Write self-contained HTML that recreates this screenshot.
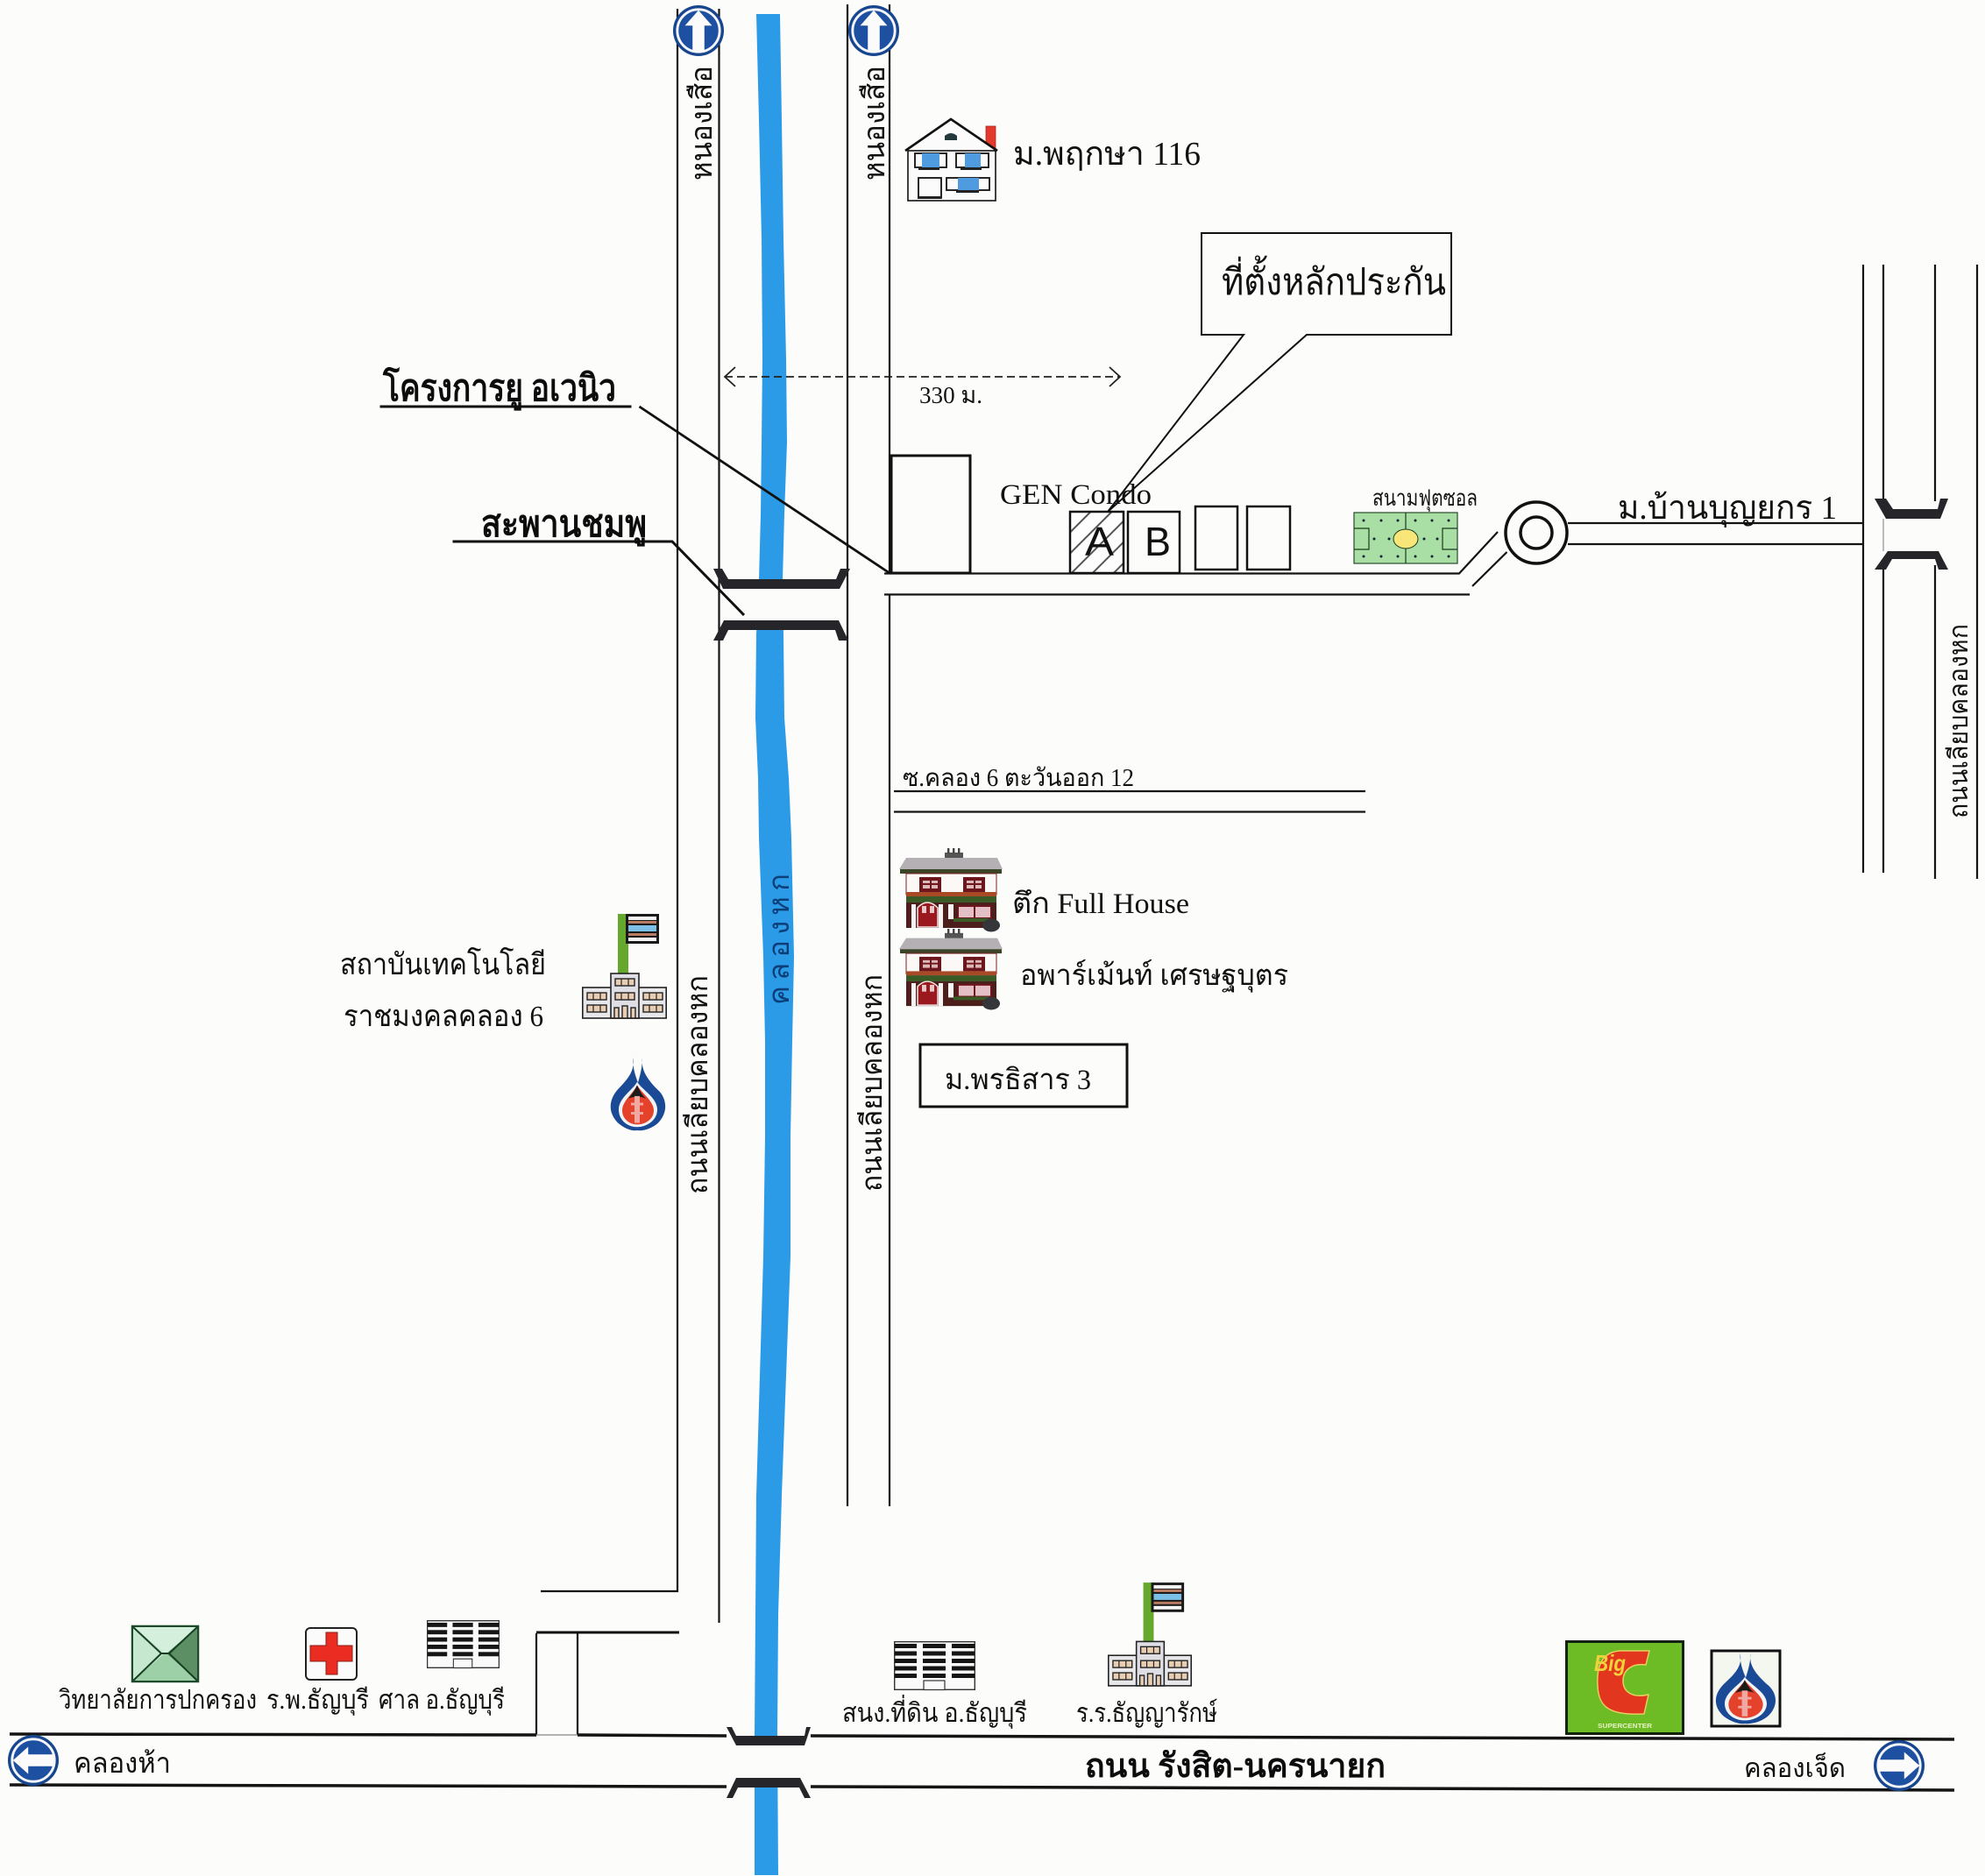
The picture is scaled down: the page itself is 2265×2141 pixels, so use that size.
<!DOCTYPE html>
<html lang="th">
<head>
<meta charset="utf-8">
<title>แผนที่</title>
<style>
html,body{margin:0;padding:0;background:#fcfcfb;}
svg{display:block;}
text{font-family:"Liberation Serif","Noto Serif CJK SC",serif;fill:#111;}
.b{font-weight:bold;fill:#0c0c0c;}
.s{font-family:"Liberation Sans","Noto Sans CJK SC",sans-serif;}
.l{fill:none;stroke:#141414;stroke-width:2.200;}
.t{fill:none;stroke:#111;stroke-width:3;}
.k{fill:#26262a;}
</style>
</head>
<body>
<svg xmlns="http://www.w3.org/2000/svg" width="2265" height="2141" viewBox="0 0 2265 2141">
<defs>
<pattern id="h" patternUnits="userSpaceOnUse" width="17" height="17" patternTransform="rotate(-45)">
<rect width="17" height="17" fill="#fdfdfd"/><rect width="17" height="2" fill="#555"/>
</pattern>
<symbol id="arrowUp" viewBox="-30 -30 60 60" overflow="visible">
<circle r="30" fill="#17468f"/><circle r="25" fill="#1d50a0" stroke="#f4f6fa" stroke-width="3"/>
<polygon points="0,-24 16,-6 7,-6 7,24 -7,24 -7,-6 -16,-6" fill="#fbfbfb"/>
</symbol>
<symbol id="ptt" viewBox="0 0 66 88" overflow="visible" preserveAspectRatio="none">
<path d="M27,0 C30,15 22,25 10,38 C0,50 -2,65 10,78 C18,85 26,88 32,87 C40,88 50,84 56,78 C68,65 66,48 55,38 C44,26 36,15 38,0 C38,12 35,22 33,30 C30,22 27,12 27,0 Z" fill="#1a4a96"/>
<path d="M32,29 C28,38 11,48 11,62 C11,75 21,83 32,83 C43,83 55,75 55,62 C55,48 37,38 32,29Z" fill="#f0f4f6"/>
<path d="M32,33 C28,42 15,52 15,63 C15,74 24,80 32,80 C41,80 51,74 51,63 C51,52 37,42 32,33Z" fill="#e5422c"/>
<path d="M32,33 C29,40 25,45 22,49 C28,46 37,46 42,49 C38,45 35,40 32,33Z" fill="#1b1b1b"/>
<rect x="29" y="46" width="6" height="32" fill="#f0a8a0"/>
<rect x="25" y="54" width="14" height="3" fill="#f0a8a0"/><rect x="25" y="65" width="14" height="3" fill="#f0a8a0"/>
</symbol>
<symbol id="school" viewBox="0 0 97 119" overflow="visible">
<rect x="41" y="0" width="12" height="68" fill="#66a82e"/>
<rect x="50" y="0" width="38" height="34" fill="#1a1a1a"/>
<rect x="53" y="3" width="32" height="4" fill="#f6f6f6"/><rect x="53" y="8" width="32" height="3" fill="#b87a60"/>
<rect x="53" y="13" width="32" height="7" fill="#7cc0e8"/><rect x="53" y="22" width="32" height="3" fill="#b87a60"/>
<rect x="53" y="27" width="32" height="4" fill="#f6f6f6"/>
<rect x="0.8" y="84" width="95.4" height="35" fill="#e8e8ea" stroke="#222" stroke-width="1.6"/>
<rect x="33" y="68" width="32" height="51" fill="#dedee4" stroke="#222" stroke-width="1.6"/>
<g fill="#e8cdb2" stroke="#222" stroke-width="1.4">
<rect x="38" y="74" width="22" height="8"/><rect x="38" y="90" width="22" height="8"/>
<rect x="6" y="90" width="22" height="8"/><rect x="6" y="104" width="22" height="8"/>
<rect x="70" y="90" width="22" height="8"/><rect x="70" y="104" width="22" height="8"/>
<rect x="37" y="107" width="5" height="12"/><rect x="46" y="105" width="6" height="14"/><rect x="56" y="107" width="5" height="12"/>
</g>
<path d="M45,74V82M53,74V82M45,90V98M53,90V98M13,90V98M21,90V98M13,104V112M21,104V112M77,90V98M85,90V98M77,104V112M85,104V112" stroke="#222" stroke-width="1.200"/>
</symbol>
<symbol id="apt" viewBox="0 0 120 95" overflow="visible" preserveAspectRatio="none">
<rect x="52" y="5" width="21" height="8" fill="#555"/>
<rect x="55" y="0" width="2.4" height="6" fill="#444"/><rect x="61" y="0" width="2.4" height="6" fill="#444"/><rect x="67" y="0" width="2.4" height="6" fill="#444"/>
<polygon points="0,24 8,11 112,11 118,24" fill="#b4b0b4"/>
<rect x="1" y="24" width="116" height="5" fill="#3a4426"/>
<rect x="8" y="29" width="103" height="24" fill="#fbf8f6" stroke="#7c1b22" stroke-width="1"/>
<g fill="#dcb8b8" stroke="#6e161e" stroke-width="4">
<rect x="25" y="35" width="21" height="13"/><rect x="75" y="35" width="21" height="13"/>
</g>
<path d="M36 34V48M86 34V48M25 41H46M75 41H96" stroke="#6e161e" stroke-width="2"/>
<rect x="8" y="50" width="103" height="5" fill="#a84a26"/>
<rect x="8" y="55" width="103" height="36" fill="#4c1f1c"/>
<rect x="8" y="55" width="103" height="7" fill="#3a5a26"/>
<path d="M21,90V68Q32,56 44,68V90Z" fill="#9a181e" stroke="#f4e8e8" stroke-width="1.500"/>
<rect x="26" y="66" width="5" height="8" fill="#e6c8c8"/><rect x="35" y="66" width="5" height="8" fill="#e6c8c8"/>
<rect x="14" y="64" width="5" height="27" fill="#f6f4f2"/><rect x="45" y="64" width="5" height="27" fill="#f6f4f2"/>
<rect x="56" y="64" width="6" height="17" fill="#f6f4f2"/>
<rect x="67" y="66" width="38" height="14" fill="#e4c0c6" stroke="#6e161e" stroke-width="2"/>
<path d="M86 66V80" stroke="#6e161e" stroke-width="2"/>
<rect x="62" y="80" width="40" height="4" fill="#3a5a26"/>
<ellipse cx="105" cy="88" rx="10" ry="7.500" fill="#34363a"/>
</symbol>
<symbol id="office" viewBox="0 0 93 56" overflow="visible" preserveAspectRatio="none">
<rect x="0.7" y="0.7" width="91.6" height="54.6" fill="#fafafa" stroke="#333" stroke-width="1.4"/>
<g fill="#151515">
<rect x="1" y="3" width="25" height="5"/><rect x="33" y="3" width="26" height="5"/><rect x="66" y="3" width="26" height="5"/>
<rect x="1" y="11.500" width="25" height="5"/><rect x="33" y="11.500" width="26" height="5"/><rect x="66" y="11.500" width="26" height="5"/>
<rect x="1" y="20" width="25" height="5"/><rect x="33" y="20" width="26" height="5"/><rect x="66" y="20" width="26" height="5"/>
<rect x="1" y="28.500" width="25" height="5"/><rect x="33" y="28.500" width="26" height="5"/><rect x="66" y="28.500" width="26" height="5"/>
<rect x="1" y="37" width="25" height="5"/><rect x="33" y="37" width="26" height="5"/><rect x="66" y="37" width="26" height="5"/>
</g>
<rect x="34" y="45" width="24" height="10.500" fill="#fafafa" stroke="#333" stroke-width="1.200"/>
</symbol>
</defs>

<rect width="2265" height="2141" fill="#fcfcfb"/>

<!-- canal -->
<polygon fill="#2b9be8" points="863,16 890,16 892,137 894,273 897,410 898,505 895,587 893,662 894,724 895,819 900,888 903,956 906,1092 904,1188 902,1297 902,1434 897,1570 892,1707 888,1843 887,1980 888,2140 861,2140 861,1980 862,1843 863,1707 867,1570 871,1434 873,1297 873,1188 871,1092 866,956 865,888 862,819 863,724 866,662 868,587 869,505 870,410 869,273 866,137"/>
<rect x="826" y="672" width="130" height="36" fill="#fcfcfb"/>
<rect x="840" y="1992" width="78" height="37" fill="#fcfcfb"/>

<!-- main vertical roads -->
<path class="l" d="M773,10V1816H617"/>
<path class="l" d="M820.500,10V1852"/>
<path class="l" d="M967,5V1719"/>
<path class="l" d="M1015,5V655"/>
<path class="l" d="M1015,679V1719"/>

<!-- side road east -->
<path class="l" d="M1009,654.500H1665L1709,607"/>
<path class="l" d="M1009,678.500H1677M1680,669L1719.500,630"/>
<path class="l" d="M1020,903H1558M1020,926.500H1558"/>

<!-- far-right road -->
<path class="l" d="M2126,302V996"/>
<path class="l" d="M2149,302V572M2149,645V996"/>
<path class="l" d="M2208,302V572M2208,645V1003"/>
<path class="l" d="M2256,302V1003"/>
<path d="M2149,592V629" stroke="#bbb" stroke-width="2"/>
<path class="l" d="M1789,597H2126M1789,621H2126"/>

<!-- bridges -->
<polygon class="k" points="814,649 824,649 831,661 954,661 959,649 970,649 958,672 825,672"/>
<polygon class="k" points="826,708 957,708 968,731 957,731 953,719 831,719 825,731 814,731"/>
<polygon class="k" points="2139,569 2152,569 2160,581 2211,581 2214,569 2223,569 2214,592 2152,592"/>
<polygon class="k" points="2154,629 2212,629 2223,650 2212,650 2208,638 2159,638 2152,650 2139,650"/>
<polygon class="k" points="829,1971 835,1971 840,1981 918,1981 920,1971 925,1971 918,1992 840,1992"/>
<polygon class="k" points="840,2029 913,2029 925,2052 918,2052 912,2040 842,2040 836,2052 829,2052"/>

<!-- roundabout -->
<circle cx="1753" cy="608" r="35" fill="#fcfcfb" stroke="#111" stroke-width="3.500"/>
<circle cx="1753" cy="608" r="18" fill="#fcfcfb" stroke="#111" stroke-width="3.500"/>

<!-- main horizontal road -->
<path d="M11,1979L612,1980M659,1980L829,1981M925,1981L2230,1985" fill="none" stroke="#141414" stroke-width="3.500"/>
<path d="M11,2037L829,2039M925,2039L2230,2043" fill="none" stroke="#141414" stroke-width="3.500"/>
<path class="l" d="M612,1864V1980M659,1864V1980"/>
<path class="t" d="M612,1863H775"/>
<path d="M612,1980H659" stroke="#999" stroke-width="1.500"/>

<!-- direction signs -->
<use href="#arrowUp" x="768" y="6" width="58" height="58"/>
<use href="#arrowUp" x="968" y="6" width="58" height="58"/>
<use href="#arrowUp" x="0" y="0" width="58" height="58" transform="translate(38,2009) rotate(-90) translate(-29,-29)"/>
<use href="#arrowUp" x="0" y="0" width="58" height="58" transform="translate(2167,2015) rotate(90) translate(-29,-29)"/>

<!-- dashed dimension -->
<path d="M827,430H1278" fill="none" stroke="#222" stroke-width="1.800" stroke-dasharray="9 5"/>
<path d="M839,419L827,430L839,441M1266,419L1278,430L1266,441" fill="none" stroke="#222" stroke-width="1.800"/>
<text x="1049" y="460" font-size="27" textLength="72" lengthAdjust="spacingAndGlyphs">330 ม.</text>

<!-- leaders -->
<path class="t" d="M433.500,464H720.500"/>
<path d="M729.500,464L1015,654" fill="none" stroke="#111" stroke-width="2.800"/>
<path class="t" d="M516.500,618H767L849,702"/>
<text class="b" x="437" y="457" font-size="42" textLength="266" lengthAdjust="spacingAndGlyphs">โครงการยู อเวนิว</text>
<text class="b" x="549" y="612" font-size="42" textLength="189" lengthAdjust="spacingAndGlyphs">สะพานชมพู</text>

<!-- callout -->
<path d="M1371,266H1656V382H1491L1264,584L1419,382H1371Z" fill="#fcfcfb" stroke="#111" stroke-width="2"/>
<text x="1394" y="336" font-size="42" textLength="256" lengthAdjust="spacingAndGlyphs">ที่ตั้งหลักประกัน</text>

<!-- house -->
<g transform="translate(1030,130)">
<rect x="95" y="14" width="11" height="26" fill="#e23a2c" stroke="#aa2a20" stroke-width="0.800"/>
<path d="M6,42L55,6L108,42V99H6Z" fill="#fbfbfb"/>
<path d="M3,42L55,6L108,42" fill="none" stroke="#111" stroke-width="2.600"/>
<rect x="6" y="42" width="100" height="57" fill="#fbfbfb" stroke="#111" stroke-width="1.600"/>
<path d="M48,30V25Q55,19 62,25V30Z" fill="#22383c"/>
<g stroke="#111" stroke-width="1.800" fill="#fbfbfb">
<rect x="14" y="45" width="36" height="16"/><rect x="61" y="45" width="37" height="16"/><rect x="50" y="73" width="49" height="14"/>
<rect x="18" y="73" width="26" height="23"/>
</g>
<rect x="22" y="45" width="20" height="16" fill="#4f9be0"/><rect x="71" y="45" width="18" height="16" fill="#4f9be0"/><rect x="63" y="73" width="24" height="14" fill="#4f9be0"/>
<rect x="18" y="61" width="24" height="3" fill="#222"/><rect x="66" y="61" width="24" height="3" fill="#222"/><rect x="61" y="87" width="26" height="3" fill="#222"/><rect x="17" y="94" width="27" height="3" fill="#222"/>
</g>
<text x="1156" y="188" font-size="38" textLength="214" lengthAdjust="spacingAndGlyphs">ม.พฤกษา 116</text>

<!-- condo blocks -->
<rect x="1017" y="520" width="90" height="134" fill="#fcfcfb" stroke="#111" stroke-width="3"/>
<rect x="1221" y="584" width="61" height="70" fill="url(#h)" stroke="#111" stroke-width="2.500"/>
<rect x="1287" y="584" width="59" height="70" fill="#fcfcfb" stroke="#111" stroke-width="2.500"/>
<rect x="1364" y="578" width="48" height="72" fill="#fcfcfb" stroke="#111" stroke-width="2.500"/>
<rect x="1423" y="578" width="49" height="72" fill="#fcfcfb" stroke="#111" stroke-width="2.500"/>
<text class="s" x="1238" y="634" font-size="46" textLength="33" lengthAdjust="spacingAndGlyphs">A</text>
<text class="s" x="1306" y="634" font-size="46" textLength="30" lengthAdjust="spacingAndGlyphs">B</text>
<text x="1141" y="575" font-size="33" textLength="173" lengthAdjust="spacingAndGlyphs">GEN Condo</text>

<!-- field -->
<text x="1566" y="577" font-size="26" textLength="120" lengthAdjust="spacingAndGlyphs">สนามฟุตซอล</text>
<g transform="translate(1545,585)">
<rect width="118" height="58" fill="#a9dfa5" stroke="#2a4a2a" stroke-width="1.200"/>
<path d="M59,0V58M0,18H17V42H0M118,18H101V42H118" fill="none" stroke="#1c3a1c" stroke-width="1.200"/>
<ellipse cx="59" cy="30" rx="14" ry="11" fill="#f8e678" stroke="#1c3a1c" stroke-width="1"/>
<g fill="#123"><circle cx="11" cy="9" r="1.500"/><circle cx="31" cy="9" r="1.500"/><circle cx="50" cy="9" r="1.500"/><circle cx="70" cy="9" r="1.500"/><circle cx="89" cy="9" r="1.500"/><circle cx="108" cy="9" r="1.500"/><circle cx="23" cy="30" r="1.500"/><circle cx="40" cy="30" r="1.500"/><circle cx="80" cy="30" r="1.500"/><circle cx="95" cy="30" r="1.500"/><circle cx="11" cy="50" r="1.500"/><circle cx="31" cy="50" r="1.500"/><circle cx="50" cy="50" r="1.500"/><circle cx="70" cy="50" r="1.500"/><circle cx="89" cy="50" r="1.500"/><circle cx="108" cy="50" r="1.500"/></g>
</g>
<text x="1846" y="592" font-size="38" textLength="250" lengthAdjust="spacingAndGlyphs">ม.บ้านบุญยกร 1</text>

<!-- rotated labels -->
<text transform="translate(812,206) rotate(-90)" font-size="34" textLength="131" lengthAdjust="spacingAndGlyphs">หนองเสือ</text>
<text transform="translate(1009,206) rotate(-90)" font-size="34" textLength="131" lengthAdjust="spacingAndGlyphs">หนองเสือ</text>
<text transform="translate(807,1363) rotate(-90)" font-size="33" textLength="250" lengthAdjust="spacingAndGlyphs">ถนนเลียบคลองหก</text>
<text transform="translate(1006,1360) rotate(-90)" font-size="33" textLength="248" lengthAdjust="spacingAndGlyphs">ถนนเลียบคลองหก</text>
<text transform="translate(900,1147) rotate(-90)" font-size="33" textLength="150" style="fill:#0c3f78">ค ล อ ง ห ก</text>
<text transform="translate(2245,934) rotate(-90)" font-size="30" textLength="222" lengthAdjust="spacingAndGlyphs">ถนนเลียบคลองหก</text>

<!-- soi label -->
<text x="1030" y="897" font-size="28" textLength="264" lengthAdjust="spacingAndGlyphs">ซ.คลอง 6 ตะวันออก 12</text>

<!-- apartments -->
<use href="#apt" x="1026" y="968" width="120" height="95"/>
<use href="#apt" x="1026" y="1060" width="120" height="92"/>
<text x="1155" y="1042" font-size="33" textLength="202" lengthAdjust="spacingAndGlyphs">ตึก Full House</text>
<text x="1164" y="1124" font-size="33" textLength="306" lengthAdjust="spacingAndGlyphs">อพาร์เม้นท์ เศรษฐบุตร</text>
<rect x="1050" y="1192" width="236" height="71" fill="#fcfcfb" stroke="#111" stroke-width="3"/>
<text x="1078" y="1243" font-size="33" textLength="167" lengthAdjust="spacingAndGlyphs">ม.พรธิสาร 3</text>

<!-- west side -->
<text x="388" y="1112" font-size="34" textLength="235" lengthAdjust="spacingAndGlyphs">สถาบันเทคโนโลยี</text>
<text x="392" y="1171" font-size="34" textLength="228" lengthAdjust="spacingAndGlyphs">ราชมงคลคลอง 6</text>
<use href="#school" x="664" y="1043" width="97" height="119"/>
<use href="#ptt" x="695" y="1207" width="66" height="84"/>

<!-- bottom row icons -->
<g transform="translate(151,1856)">
<rect width="75" height="63" fill="#8cc79a" stroke="#1d4a2a" stroke-width="2.500"/>
<polygon points="1,1 37,31 1,62" fill="#c5e8cf"/><polygon points="74,1 39,31 74,62" fill="#5c8f64"/><polygon points="1,62 37,31 39,31 74,62" fill="#9ed0a8"/><polygon points="1,1 74,1 39,31 37,31" fill="#d4efdc"/>
<path d="M1,1L33,31H42L74,62M74,1L42,31M33,31L1,62" fill="none" stroke="#173f23" stroke-width="2"/>
</g>
<g transform="translate(348,1857)">
<rect x="1" y="1" width="58" height="59" rx="5" fill="#fbfbfb" stroke="#222" stroke-width="2"/>
<polygon points="24,6 37,6 37,21 54,21 54,39 37,39 37,54 24,54 24,39 6,39 6,21 24,21" fill="#ea2c22" stroke="#8a2018" stroke-width="1"/>
</g>
<use href="#office" x="487" y="1849" width="83" height="55"/>
<use href="#office" x="1020" y="1873" width="93" height="56"/>
<use href="#school" x="1264" y="1806" width="96" height="118"/>

<text x="67" y="1950" font-size="30" textLength="226" lengthAdjust="spacingAndGlyphs">วิทยาลัยการปกครอง</text>
<text x="304" y="1950" font-size="30" textLength="117" lengthAdjust="spacingAndGlyphs">ร.พ.ธัญบุรี</text>
<text x="432" y="1950" font-size="30" textLength="144" lengthAdjust="spacingAndGlyphs">ศาล อ.ธัญบุรี</text>
<text x="961" y="1965" font-size="30" textLength="211" lengthAdjust="spacingAndGlyphs">สนง.ที่ดิน อ.ธัญบุรี</text>
<text x="1228" y="1965" font-size="30" textLength="161" lengthAdjust="spacingAndGlyphs">ร.ร.ธัญญารักษ์</text>

<!-- Big C -->
<g transform="translate(1786,1872)">
<rect x="1.500" y="1.500" width="133" height="105" fill="#6ebc25" stroke="#14210f" stroke-width="3"/>
<path d="M96,12H62C38,14 36,36 37,52C38,76 50,86 90,84L95,62C78,66 66,60 66,46C66,34 76,26 92,28Z" fill="#e2361f" stroke="#e6d060" stroke-width="1.500"/>
<text class="s" x="33" y="35" font-size="26" font-weight="bold" textLength="36" lengthAdjust="spacingAndGlyphs" style="fill:#f0d23c;font-style:italic">Big</text>
<text class="s" x="37" y="100" font-size="7" font-weight="bold" textLength="62" lengthAdjust="spacingAndGlyphs" style="fill:#e8f2c8">SUPERCENTER</text>
</g>
<rect x="1953" y="1884" width="78" height="86" fill="#f4f6f0" stroke="#111" stroke-width="3"/>
<use href="#ptt" x="1956" y="1887" width="72" height="81"/>

<!-- bottom road labels -->
<text x="84" y="2023" font-size="32" textLength="111" lengthAdjust="spacingAndGlyphs">คลองห้า</text>
<text class="b" x="1238" y="2028" font-size="38" textLength="343" lengthAdjust="spacingAndGlyphs">ถนน รังสิต-นครนายก</text>
<text x="1990" y="2028" font-size="30" textLength="116" lengthAdjust="spacingAndGlyphs">คลองเจ็ด</text>
</svg>
</body>
</html>
